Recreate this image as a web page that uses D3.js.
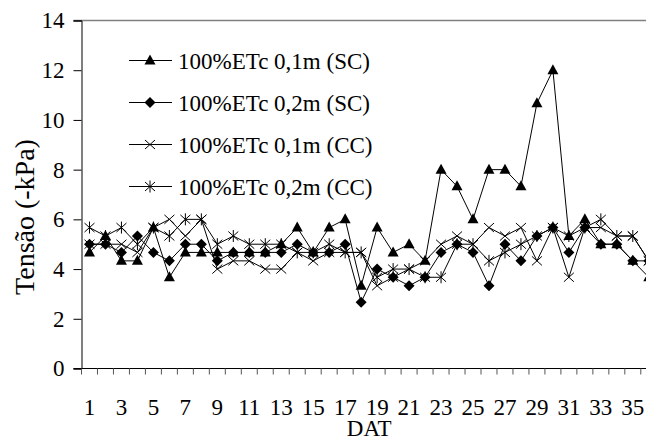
<!DOCTYPE html>
<html lang="en">
<head>
<meta charset="UTF-8">
<title>Tensão x DAT</title>
<style>
  body { margin: 0; background: #fff; }
  text { font-family: "Liberation Serif", "Times New Roman", serif; fill: #000; }
</style>
</head>
<body>
<div id="content"></div>
<script src="https://d3js.org/d3.v7.min.js"></script>
<script>
// days after transplanting (DAT)
var days = d3.range(1, 37);
var tickLabels = days.filter(function (d) { return d % 2 == 1; });
var yTicks = [0, 2, 4, 6, 8, 10, 12, 14];

var seriesNames = ["100%ETc 0,1m (SC)", "100%ETc 0,2m (SC)", "100%ETc 0,1m (CC)", "100%ETc 0,2m (CC)"];
var seriesMarks = ["triangle", "diamond", "cross", "star"];

var sc01 = [4.67, 5.33, 4.33, 4.33, 5.67, 3.67, 4.67, 4.67, 4.67, 4.67, 4.67, 4.67, 5.0, 5.67, 4.67, 5.67, 6.0, 3.33,
            5.67, 4.67, 5.0, 4.33, 8.0, 7.33, 6.0, 8.0, 8.0, 7.33, 10.67, 12.0, 5.33, 6.0, 5.0, 5.0, 4.33, 3.67];
var sc02 = [5.0, 5.0, 4.67, 5.33, 4.67, 4.33, 5.0, 5.0, 4.33, 4.67, 4.67, 4.67, 4.67, 5.0, 4.67, 4.67, 5.0, 2.67,
            4.0, 3.67, 3.33, 3.67, 4.67, 5.0, 4.67, 3.33, 5.0, 4.33, 5.33, 5.67, 4.67, 5.67, 5.0, 5.0, 4.33, 4.33];
var cc01 = [5.0, 5.0, 5.0, 4.67, 5.67, 6.0, 5.33, 6.0, 4.0, 4.33, 4.33, 4.0, 4.0, 4.67, 4.33, 4.67, 4.67, 4.67,
            3.33, 3.67, 4.0, 4.33, 5.0, 5.33, 5.0, 5.67, 5.33, 5.67, 4.33, 5.67, 3.67, 5.67, 5.67, 5.33, 5.33, 4.33];
var cc02 = [5.67, 5.33, 5.67, 5.0, 5.67, 5.33, 6.0, 6.0, 5.0, 5.33, 5.0, 5.0, 5.0, 4.67, 4.67, 5.0, 4.67, 4.67,
            3.67, 4.0, 4.0, 3.67, 3.67, 5.0, 5.0, 4.33, 4.67, 5.0, 5.33, 5.67, 5.33, 5.67, 6.0, 5.33, 5.33, 4.33];
var allSeries = [sc01, sc02, cc01, cc02];

var W = 646, H = 441;
var plotLeft = 81.5, plotTop = 20.5, plotBottom = 368.5, step = 15.98;
var serif = "'Liberation Serif', 'Times New Roman', serif";

var svg = d3.select("#content").append("svg")
    .attr("width", W).attr("height", H);

var x = d3.scaleBand()
    .domain(days)
    .range([plotLeft, plotLeft + step * days.length]);

var y = d3.scaleLinear()
    .domain([0, 14])
    .range([plotBottom, plotTop]);

// top border
svg.append("line")
    .attr("x1", plotLeft - 8).attr("x2", W)
    .attr("y1", y(14)).attr("y2", y(14))
    .attr("stroke", "#808080").attr("stroke-width", 1.5);

// y axis
var yAxis = svg.append("g")
    .attr("transform", "translate(" + plotLeft + ",0)")
    .call(d3.axisLeft(y).tickValues(yTicks).tickSize(8).tickPadding(9));
yAxis.attr("font-family", serif);
yAxis.select(".domain").attr("stroke", "#000");
yAxis.selectAll(".tick line").attr("stroke", "#000");
yAxis.selectAll("text")
    .style("font-family", serif)
    .style("font-size", "23px");

// x axis, ticks between categories
svg.append("line")
    .attr("x1", plotLeft - 8).attr("x2", W)
    .attr("y1", plotBottom).attr("y2", plotBottom)
    .attr("stroke", "#000");

svg.append("g").selectAll("line")
    .data(days)
    .enter().append("line")
    .attr("x1", function (d) { return x(d); })
    .attr("x2", function (d) { return x(d); })
    .attr("y1", plotBottom).attr("y2", plotBottom + 6)
    .attr("stroke", "#555");

svg.append("g").selectAll("text")
    .data(tickLabels)
    .enter().append("text")
    .attr("x", function (d) { return x(d) + x.bandwidth() / 2; })
    .attr("y", 415)
    .attr("text-anchor", "middle")
    .style("font-family", serif)
    .style("font-size", "23px")
    .text(function (d) { return d; });

svg.append("text")
    .attr("x", plotLeft + step * days.length / 2)
    .attr("y", 436)
    .attr("text-anchor", "middle")
    .style("font-family", serif)
    .style("font-size", "23px")
    .text("DAT");

svg.append("text")
    .attr("transform", "translate(34,217) rotate(-90)")
    .attr("text-anchor", "middle")
    .style("font-family", serif)
    .style("font-size", "28px")
    .text("Tensão (-kPa)");

function drawMark(g, kind) {
    if (kind == "triangle") {
        g.append("path").attr("d", "M0,-6L5.5,4L-5.5,4Z").attr("fill", "#000");
    } else if (kind == "diamond") {
        g.append("path").attr("d", "M0,-5.5L5.5,0L0,5.5L-5.5,0Z").attr("fill", "#000");
    } else if (kind == "cross") {
        g.append("path").attr("d", "M-5,-4.5L5,4.5M-5,4.5L5,-4.5").attr("stroke", "#000").attr("stroke-width", 1);
    } else {
        g.append("path").attr("d", "M-5,-4.5L5,4.5M-5,4.5L5,-4.5M0,-6L0,6").attr("stroke", "#000").attr("stroke-width", 1);
    }
}

var line = d3.line()
    .x(function (d, i) { return x(days[i]) + x.bandwidth() / 2; })
    .y(function (d) { return y(d); });

// draw in reverse so the SC series sit on top
[3, 2, 1, 0].forEach(function (s) {
    svg.append("path")
        .datum(allSeries[s])
        .attr("d", line)
        .attr("fill", "none")
        .attr("stroke", "#000")
        .attr("stroke-width", 1);
    svg.append("g").selectAll("g")
        .data(allSeries[s])
        .enter().append("g")
        .attr("transform", function (d, i) {
            return "translate(" + (x(days[i]) + x.bandwidth() / 2) + "," + y(d) + ")";
        })
        .each(function () { drawMark(d3.select(this), seriesMarks[s]); });
});

// legend
var legend = svg.append("g");
seriesNames.forEach(function (name, i) {
    var ly = 60.5 + i * 42;
    legend.append("line")
        .attr("x1", 129).attr("x2", 172)
        .attr("y1", ly).attr("y2", ly)
        .attr("stroke", "#000");
    var m = legend.append("g").attr("transform", "translate(150," + ly + ")");
    drawMark(m, seriesMarks[i]);
    legend.append("text")
        .attr("x", 178).attr("y", ly + 8)
        .style("font-family", serif)
        .style("font-size", "23px")
        .text(name);
});
</script>
</body>
</html>
